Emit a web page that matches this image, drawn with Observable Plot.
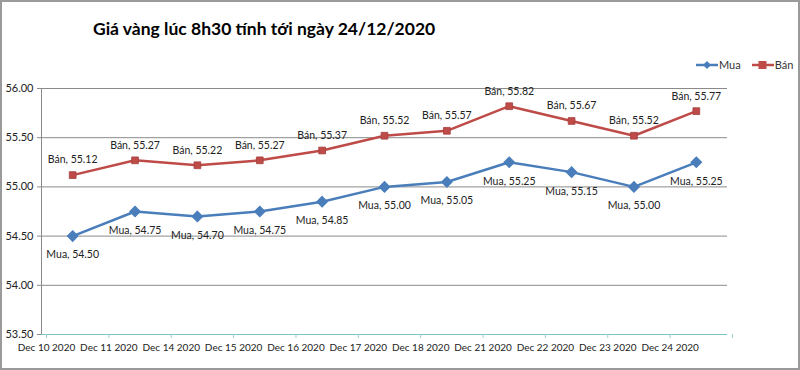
<!DOCTYPE html>
<html><head><meta charset="utf-8">
<script src="https://cdn.jsdelivr.net/npm/d3@7"></script>
<script src="https://cdn.jsdelivr.net/npm/@observablehq/plot@0.6"></script>
<style>
body{margin:0;background:#fff;}
#wrap{position:relative;width:800px;height:370px;overflow:hidden;font-family:Lato,"Open Sans",sans-serif;}
#frame{position:absolute;left:0;top:0;width:796px;height:366px;border:2px solid #9a9a9a;pointer-events:none;}
#title{position:absolute;left:93px;top:18px;font-size:17.5px;font-weight:bold;color:#000;white-space:nowrap;}
#legend{position:absolute;left:696px;top:58px;font-size:11px;color:#333;display:flex;align-items:center;gap:3px;}
#legend svg{vertical-align:middle;}
</style></head>
<body>
<div id="wrap">
<div id="chart"></div>
<div id="title">Giá vàng lúc 8h30 tính tới ngày 24/12/2020</div>
<div id="legend"></div>
<div id="frame"></div>
</div>
<script>
const dates = ["Dec 10 2020","Dec 11 2020","Dec 14 2020","Dec 15 2020","Dec 16 2020","Dec 17 2020","Dec 18 2020","Dec 21 2020","Dec 22 2020","Dec 23 2020","Dec 24 2020"];
const mua = [54.50,54.75,54.70,54.75,54.85,55.00,55.05,55.25,55.15,55.00,55.25];
const ban = [55.12,55.27,55.22,55.27,55.37,55.52,55.57,55.82,55.67,55.52,55.77];
const yTicks = [53.5,54,54.5,55,55.5,56];
const series = [{name:"Mua", color:"#4a7ebb", values:mua}, {name:"Bán", color:"#be4b48", values:ban}];

const muaData = mua.map((v,i)=>({i:i+0.5, v, label:`Mua, ${v.toFixed(2)}`}));
const banData = ban.map((v,i)=>({i:i+0.5, v, label:`Bán, ${v.toFixed(2)}`}));
const xTicks = d3.range(dates.length+1);

const chart = Plot.plot({
  width:800, height:370,
  marginLeft:41, marginRight:73, marginTop:88, marginBottom:36,
  style:{fontFamily:"Lato, 'Open Sans', sans-serif", fontSize:"10.5px", color:"#222", background:"transparent"},
  x:{type:"linear", domain:[0,dates.length]},
  y:{domain:[53.5,56]},
  marks:[
    Plot.gridY(yTicks.slice(1), {stroke:"#8a8a8a", strokeOpacity:1, strokeWidth:1}),
    Plot.ruleY([53.5], {stroke:"#7cc4cc", strokeWidth:1.2}),
    Plot.ruleX([0], {stroke:"#8a8a8a"}),
    Plot.axisY({ticks:yTicks, tickFormat:d3.format(".2f"), tickSize:4, tickPadding:4, stroke:"#8a8a8a", fill:"#222", fontSize:11, label:null}),
    Plot.axisX({ticks:xTicks, tickFormat:d=>dates[d]??"", tickSize:4, tickPadding:5, dx:5, stroke:"#9acfd5", fill:"#222", fontSize:10, label:null}),
    Plot.line(muaData, {x:"i", y:"v", stroke:series[0].color, strokeWidth:2.5}),
    Plot.dot(muaData, {x:"i", y:"v", symbol:"diamond2", r:4.5, fill:series[0].color, stroke:series[0].color}),
    Plot.line(banData, {x:"i", y:"v", stroke:series[1].color, strokeWidth:2.5}),
    Plot.dot(banData, {x:"i", y:"v", symbol:"square2", r:4.3, fill:series[1].color, stroke:"#a33f3c", strokeWidth:0.8}),
    Plot.text(banData, {x:"i", y:"v", text:"label", dy:-15, fill:"#222", fontSize:10.5}),
    Plot.text(muaData, {x:"i", y:"v", text:"label", dy:19, fill:"#222", fontSize:10.5})
  ]
});
document.getElementById("chart").appendChild(chart);

const legend = document.getElementById("legend");
series.forEach((s,k)=>{
  const sym = k===0
    ? `<path d="M11,1 L15,5 L11,9 L7,5Z" fill="${s.color}"/>`
    : `<rect x="6.5" y="1" width="8" height="8" fill="${s.color}"/>`;
  const span = document.createElement("span");
  span.style.display="inline-flex"; span.style.alignItems="center"; span.style.marginRight = k===0?"8px":"0";
  span.innerHTML = `<svg width="22" height="10"><line x1="0" y1="5" x2="22" y2="5" stroke="${s.color}" stroke-width="2.5"/>${sym}</svg><span style="margin-left:1px">${s.name}</span>`;
  legend.appendChild(span);
});
</script>
</body></html>
